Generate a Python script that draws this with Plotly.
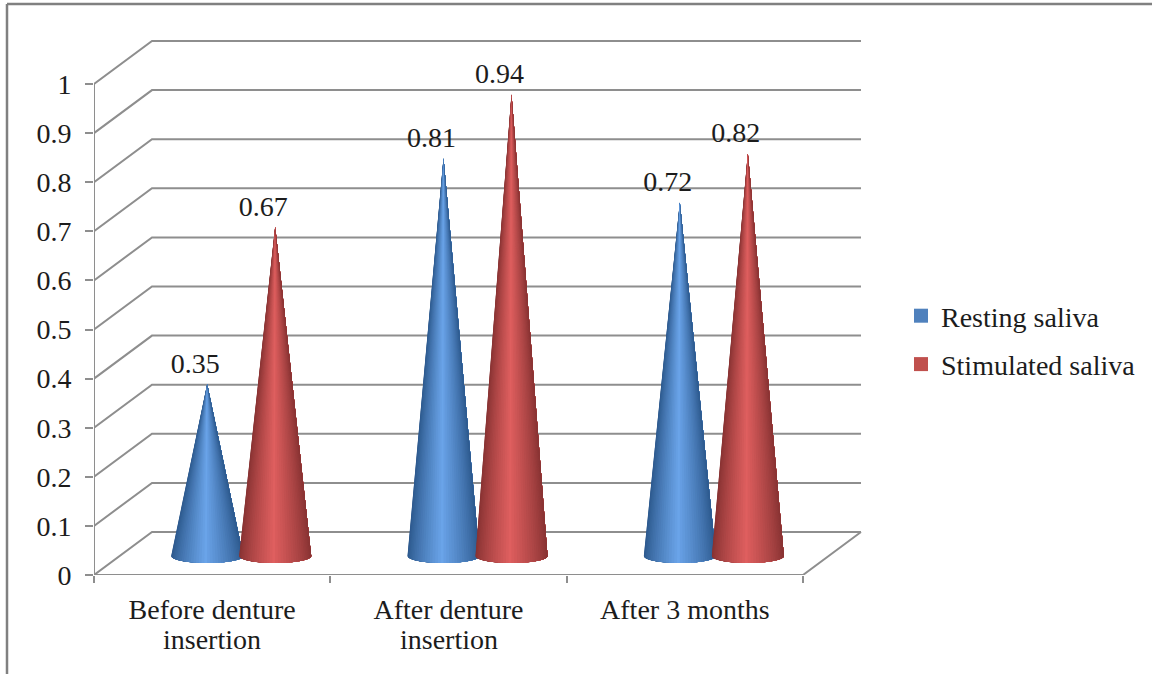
import math
import plotly.graph_objects as go

categories = ["Before denture<br>insertion", "After denture<br>insertion", "After 3 months"]
resting_saliva = [0.35, 0.81, 0.72]
stimulated_saliva = [0.67, 0.94, 0.82]
y_ticks = [0, 0.1, 0.2, 0.3, 0.4, 0.5, 0.6, 0.7, 0.8, 0.9, 1]
y_labels = ["0", "0.1", "0.2", "0.3", "0.4", "0.5", "0.6", "0.7", "0.8", "0.9", "1"]

FONT = "Liberation Serif"
FS = 28
TXT = "#1c1c1c"
GRID = "#8e8e8e"

# axis scale: pixels per data unit
PX_X = 236.33
PX_Y = 491.0
W, H = 1152, 674
L, R, T, B = 94, W, 30, 575

DEPTH_X = 58 / PX_X
DEPTH_Y = 43 / PX_Y
CONE_Y = 19 / PX_Y
CONE_RX = 36 / PX_X
CONE_RY = 7 / PX_Y
OFFSET_BLUE = -5 / PX_X
OFFSET_RED = 63 / PX_X
LABEL_DX = -12 / PX_X
LABEL_DY = 18 / PX_Y
N_STRIPS = 40

BLUE_EDGE, BLUE_MID = (44, 88, 140), (108, 166, 236)
RED_EDGE, RED_MID = (134, 50, 50), (226, 96, 96)

fig = go.Figure()


def line(xs, ys):
    fig.add_trace(go.Scatter(x=xs, y=ys, mode="lines", showlegend=False, hoverinfo="skip",
                             line=dict(color=GRID, width=2), cliponaxis=False))


# back wall and side wall gridlines
for v in y_ticks:
    line([0, DEPTH_X, 3 + DEPTH_X], [v, v + DEPTH_Y, v + DEPTH_Y])
# front axis lines and floor edge
line([0, 0], [0, 1])
line([0, 3, 3 + DEPTH_X], [0, 0, DEPTH_Y])


def shade(edge, mid, t):
    k = (1 - abs(t)) ** 0.8
    if t > 0:
        k *= 0.92
    return "rgb(%d,%d,%d)" % tuple(round(e + (m - e) * k) for e, m in zip(edge, mid))


def cone(cx, value, edge, mid):
    base = CONE_Y
    apex = base + value
    # painted left to right: each layer covers everything from its angle to the right edge
    for i in range(N_STRIPS):
        a0 = -math.pi / 2 + math.pi * i / N_STRIPS
        arc = [a0 + (math.pi / 2 - a0) * j / 16 for j in range(17)]
        xs = [cx] + [cx + CONE_RX * math.sin(a) for a in arc] + [cx]
        ys = [apex] + [base - CONE_RY * math.cos(a) for a in arc] + [apex]
        c = shade(edge, mid, math.sin(a0 + math.pi / N_STRIPS / 2))
        fig.add_trace(go.Scatter(x=xs, y=ys, mode="lines", fill="toself", fillcolor=c,
                                 line=dict(width=0), showlegend=False,
                                 hoverinfo="skip", cliponaxis=False))


for i in range(len(categories)):
    centre = i + 0.5
    cone(centre + OFFSET_BLUE, resting_saliva[i], BLUE_EDGE, BLUE_MID)
    cone(centre + OFFSET_RED, stimulated_saliva[i], RED_EDGE, RED_MID)

# data labels
for values, off in ((resting_saliva, OFFSET_BLUE), (stimulated_saliva, OFFSET_RED)):
    fig.add_trace(go.Scatter(
        x=[i + 0.5 + off + LABEL_DX for i in range(len(values))],
        y=[v + CONE_Y + LABEL_DY for v in values],
        text=[f"{v:g}" for v in values],
        mode="text", textposition="middle center",
        textfont=dict(family=FONT, size=FS, color=TXT),
        showlegend=False, hoverinfo="skip", cliponaxis=False))

# legend entries
for name, col in (("Resting saliva", "#4f81bd"), ("Stimulated saliva", "#c0504d")):
    fig.add_trace(go.Scatter(x=[None], y=[None], name=name, mode="markers", legendgroup=name,
                             marker=dict(symbol="square", size=14, color=col)))

first_lines = [c.split("<br>")[0] for c in categories]
second_lines = [dict(x=i + 0.5, y=0, xref="x", yref="y", yshift=-64, showarrow=False,
                     text=c.split("<br>")[1], font=dict(family=FONT, size=FS, color=TXT))
                for i, c in enumerate(categories) if "<br>" in c]

fig.update_layout(
    width=W, height=H, autosize=False,
    margin=dict(l=L, r=W - R, t=T, b=H - B, pad=0),
    plot_bgcolor="white", paper_bgcolor="white",
    font=dict(family=FONT, size=FS, color=TXT),
    annotations=second_lines,
    xaxis=dict(range=[0, (R - L) / PX_X], showgrid=False, zeroline=False, showline=False,
               tickmode="array", tickvals=[0.5, 1.5, 2.5], ticktext=first_lines,
               ticks="", tickangle=0, ticklabelstandoff=15,
               minor=dict(tickmode="array", tickvals=[0, 1, 2, 3], ticks="outside", ticklen=7,
                          tickwidth=2, tickcolor=GRID, showgrid=False)),
    yaxis=dict(range=[0, (B - T) / PX_Y], showgrid=False, zeroline=False, showline=False,
               tickmode="array", tickvals=y_ticks, ticktext=y_labels,
               ticks="outside", ticklen=8, tickwidth=2, tickcolor=GRID, ticklabelstandoff=8),
    legend=dict(x=(901 - L) / (R - L), y=(B - 291) / (B - T), xanchor="left", yanchor="top",
                bgcolor="rgba(0,0,0,0)", tracegroupgap=9, itemsizing="trace",
                font=dict(family=FONT, size=FS, color=TXT)),
    shapes=[
        dict(type="line", xref="paper", yref="paper", x0=(7 - L) / (R - L), x1=(7 - L) / (R - L),
             y0=(B - H) / (B - T), y1=(B - 4) / (B - T), line=dict(color="#808080", width=2.5)),
        dict(type="line", xref="paper", yref="paper", x0=(7 - L) / (R - L), x1=(W - L) / (R - L),
             y0=(B - 4) / (B - T), y1=(B - 4) / (B - T), line=dict(color="#808080", width=2.5)),
    ],
)
fig.write_html("out.html", config=dict(displayModeBar=False),
               post_script="document.body.style.margin='0';")
